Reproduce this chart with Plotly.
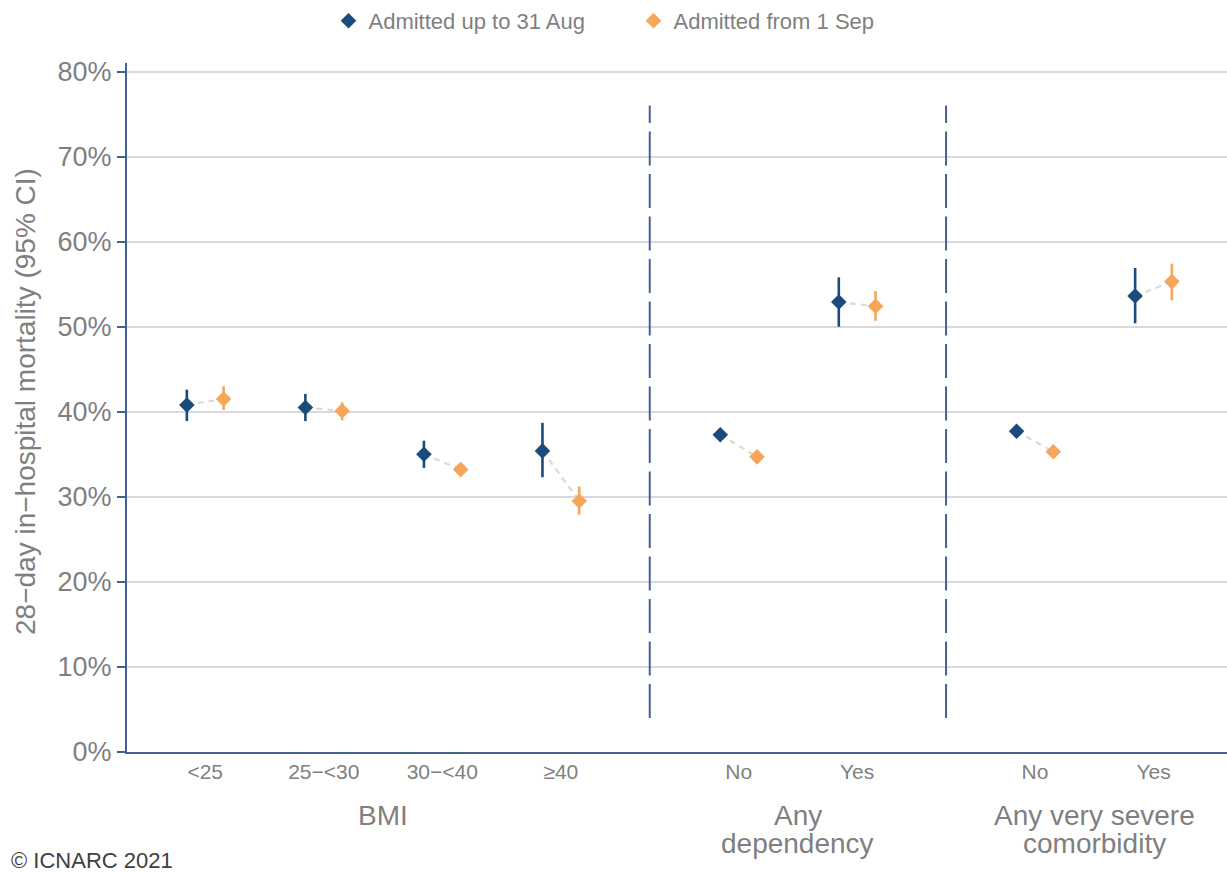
import plotly.graph_objects as go

# Subgroups and their categories
group_labels = [["BMI"], ["Any", "dependency"], ["Any very severe", "comorbidity"]]
group_categories = [["<25", "25−<30", "30−<40", "≥40"], ["No", "Yes"], ["No", "Yes"]]

# 28-day in-hospital mortality (%) with 95% CI, admitted up to 31 Aug
early_mort = [40.8, 40.5, 35.0, 35.4, 37.3, 52.9, 37.7, 53.6]
early_lo = [38.9, 38.9, 33.4, 32.3, 36.6, 50.0, 37.0, 50.4]
early_hi = [42.6, 42.1, 36.6, 38.7, 38.0, 55.8, 38.4, 56.9]

# Admitted from 1 Sep
late_mort = [41.5, 40.1, 33.2, 29.5, 34.7, 52.4, 35.3, 55.3]
late_lo = [40.2, 39.0, 32.5, 27.9, 34.0, 50.7, 34.6, 53.1]
late_hi = [43.0, 41.1, 33.9, 31.2, 35.4, 54.2, 36.0, 57.4]

# Y-axis ticks (%)
y_ticks = [0, 10, 20, 30, 40, 50, 60, 70, 80]

BLUE = "#1b4a7c"
ORANGE = "#f5a65b"
AXIS = "#45618f"
GRID = "#d9d9d9"
TEXT = "#7f7f7f"
FONT = "Liberation Sans, Arial, sans-serif"

# Category positions: unit spacing within a group, extra half-unit gap between groups
GROUP_GAP = 0.5
DODGE = 0.155
positions, group_centres, dividers = [], [], []
pos = 0.0
for gi, cats in enumerate(group_categories):
    start = pos
    for _ in cats:
        positions.append(pos)
        pos += 1
    end = pos - 1
    group_centres.append((start + end) / 2)
    if gi < len(group_categories) - 1:
        dividers.append(end + (1 + GROUP_GAP) / 2)
        pos += GROUP_GAP
tick_text = [c for cats in group_categories for c in cats]

x_early = [p - DODGE for p in positions]
x_late = [p + DODGE for p in positions]

fig = go.Figure()

# Dashed connectors between the two periods
cx, cy = [], []
for xe, xl, ye, yl in zip(x_early, x_late, early_mort, late_mort):
    cx += [xe, xl, None]
    cy += [ye, yl, None]
fig.add_trace(go.Scatter(x=cx, y=cy, mode="lines", showlegend=False, hoverinfo="skip",
                         line=dict(color=GRID, width=2.2, dash="6px,5px")))

for name, xs, ys, lo, hi, col in [
    ("Admitted up to 31 Aug", x_early, early_mort, early_lo, early_hi, BLUE),
    ("Admitted from 1 Sep", x_late, late_mort, late_lo, late_hi, ORANGE),
]:
    fig.add_trace(go.Scatter(
        x=xs, y=ys, mode="markers", name=name,
        marker=dict(symbol="diamond", size=12, color=col, line=dict(width=0)),
        error_y=dict(type="data", symmetric=False,
                     array=[h - y for h, y in zip(hi, ys)],
                     arrayminus=[y - l for y, l in zip(ys, lo)],
                     color=col, thickness=2.6, width=0),
    ))

# Vertical dashed dividers between subgroups
for d in dividers:
    fig.add_shape(type="line", x0=d, x1=d, y0=4, y1=76, xref="x", yref="y",
                  line=dict(color=AXIS, width=2, dash="34px,8.5px"))

PLOT_TOP, PLOT_BOTTOM, PLOT_LEFT = 63, 752, 127
PLOT_H = PLOT_BOTTOM - PLOT_TOP
PLOT_W = 1227 - PLOT_LEFT

def py(pixel_y):
    return (PLOT_BOTTOM - pixel_y) / PLOT_H

def px(pixel_x):
    return (pixel_x - PLOT_LEFT) / PLOT_W

# Group labels below the category ticks
for centre, lines in zip(group_centres, group_labels):
    for li, line in enumerate(lines):
        fig.add_annotation(x=centre, xref="x", y=py(815 + 28 * li), yref="paper",
                           text=line, showarrow=False, xanchor="center", yanchor="middle",
                           font=dict(size=28, color=TEXT, family=FONT))

# Y-axis title
fig.add_annotation(x=px(25), xref="paper", y=py(402), yref="paper",
                   text="28−day in−hospital mortality (95% CI)", textangle=-90,
                   showarrow=False, xanchor="center", yanchor="middle",
                   font=dict(size=28, color=TEXT, family=FONT))

# Copyright
fig.add_annotation(x=px(9), xref="paper", y=py(860), yref="paper",
                   text="© ICNARC 2021", showarrow=False, xanchor="left", yanchor="middle",
                   font=dict(size=22, color="#404040", family=FONT))

fig.update_xaxes(range=[positions[0] - 0.66, positions[-1] + 0.62],
                 tickmode="array", tickvals=positions, ticktext=tick_text,
                 showgrid=False, zeroline=False, ticks="",
                 showline=True, linecolor=AXIS, linewidth=2,
                 tickfont=dict(size=21, color=TEXT, family=FONT))
fig.update_yaxes(range=[0, 81], tickmode="array", tickvals=y_ticks,
                 ticktext=[f"{v}%" for v in y_ticks],
                 showgrid=True, gridcolor=GRID, gridwidth=2,
                 zeroline=False, ticks="outside", ticklen=8, tickwidth=2, tickcolor=AXIS,
                 showline=True, linecolor=AXIS, linewidth=2,
                 tickfont=dict(size=27, color=TEXT, family=FONT))

fig.update_layout(
    width=1227, height=872,
    margin=dict(l=PLOT_LEFT, r=0, t=PLOT_TOP, b=872 - PLOT_BOTTOM),
    plot_bgcolor="white", paper_bgcolor="white",
    font=dict(family=FONT, color=TEXT),
    legend=dict(orientation="h", xref="container", x=0.5 + 20 / 1227, xanchor="center",
                yref="container", y=1.0, yanchor="top",
                font=dict(size=22, color=TEXT, family=FONT),
                entrywidth=260, bgcolor="rgba(0,0,0,0)"),
)

fig.write_html("out.html")
